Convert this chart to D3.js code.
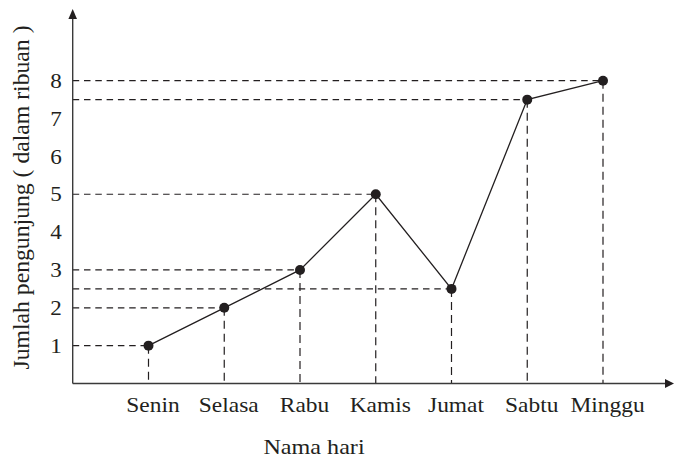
<!DOCTYPE html>
<html>
<head>
<meta charset="utf-8">
<script src="https://cdn.jsdelivr.net/npm/d3@7"></script>
<style>
  html, body { margin: 0; padding: 0; background: #fff; }
  svg { display: block; }
</style>
</head>
<body>
<svg id="chart" width="674" height="458"></svg>
<script>
const days = ["Senin", "Selasa", "Rabu", "Kamis", "Jumat", "Sabtu", "Minggu"];
const visitors = [1, 2, 3, 5, 2.5, 7.5, 8];
const yTickValues = [1, 2, 3, 4, 5, 6, 7, 8];
const xTitle = "Nama hari";
const yTitle = "Jumlah pengunjung ( dalam ribuan )";

const ink = "#231f20";
const serif = "'Liberation Serif', 'Times New Roman', serif";
const svg = d3.select("#chart");

const originX = 72.7;
const x = d3.scalePoint().domain(days).range([148.5, 603]);
const y = d3.scaleLinear().domain([0, 8]).range([383.5, 80.7]);

const data = days.map((d, i) => ({ day: d, v: visitors[i] }));

// guide lines (dashed)
const guides = svg.append("g");
guides.selectAll("line.h").data(data).join("line")
  .attr("x1", originX).attr("x2", d => x(d.day))
  .attr("y1", d => y(d.v)).attr("y2", d => y(d.v))
  .attr("stroke", ink).attr("stroke-width", 1.2)
  .attr("stroke-dasharray", "6.5,4.8");
guides.selectAll("line.v").data(data).join("line")
  .attr("x1", d => x(d.day)).attr("x2", d => x(d.day))
  .attr("y1", d => y(d.v)).attr("y2", y(0))
  .attr("stroke", ink).attr("stroke-width", 1.2)
  .attr("stroke-dasharray", "8,5");

// axes lines with arrows
svg.append("line")
  .attr("x1", originX).attr("x2", 668).attr("y1", y(0)).attr("y2", y(0))
  .attr("stroke", "#3a3a3a").attr("stroke-width", 1.6);
svg.append("path")
  .attr("d", `M674,${y(0)} L665,${y(0) - 4.5} L665,${y(0) + 4.5} Z`)
  .attr("fill", ink);
svg.append("line")
  .attr("x1", originX).attr("x2", originX).attr("y1", y(0)).attr("y2", 16)
  .attr("stroke", "#3a3a3a").attr("stroke-width", 1.4);
svg.append("path")
  .attr("d", `M${originX},9 L${originX - 4.3},19 L${originX + 4.3},19 Z`)
  .attr("fill", ink);

// y axis tick labels
const yAxis = svg.append("g")
  .attr("transform", `translate(${originX},0)`)
  .call(d3.axisLeft(y).tickValues(yTickValues).tickSize(0).tickPadding(10).tickFormat(d3.format("d")));
yAxis.select(".domain").remove();
yAxis.selectAll("text")
  .style("font-family", serif).style("font-size", "21px").style("fill", ink)
  .attr("transform", "scale(1.1,1)");

// x axis tick labels
const xAxis = svg.append("g")
  .attr("transform", `translate(4,${y(0)})`)
  .call(d3.axisBottom(x).tickSize(0).tickPadding(13));
xAxis.select(".domain").remove();
xAxis.selectAll("text")
  .style("font-family", serif).style("font-size", "22px").style("fill", ink)
  .attr("transform", "scale(1.065,1)");

// data line
svg.append("path")
  .datum(data)
  .attr("fill", "none").attr("stroke", ink).attr("stroke-width", 1.3)
  .attr("d", d3.line().x(d => x(d.day)).y(d => y(d.v)));

svg.selectAll("circle.pt").data(data).join("circle")
  .attr("cx", d => x(d.day)).attr("cy", d => y(d.v)).attr("r", 5)
  .attr("fill", ink);

// titles
svg.append("text")
  .attr("transform", "translate(314,454) scale(1.15,1)")
  .attr("text-anchor", "middle")
  .style("font-family", serif).style("font-size", "21px").style("fill", ink)
  .text(xTitle);

svg.append("text")
  .attr("transform", "translate(28.5,197.5) rotate(-90)")
  .attr("text-anchor", "middle")
  .style("font-family", serif).style("font-size", "23.7px").style("fill", ink)
  .text(yTitle);
</script>
</body>
</html>
